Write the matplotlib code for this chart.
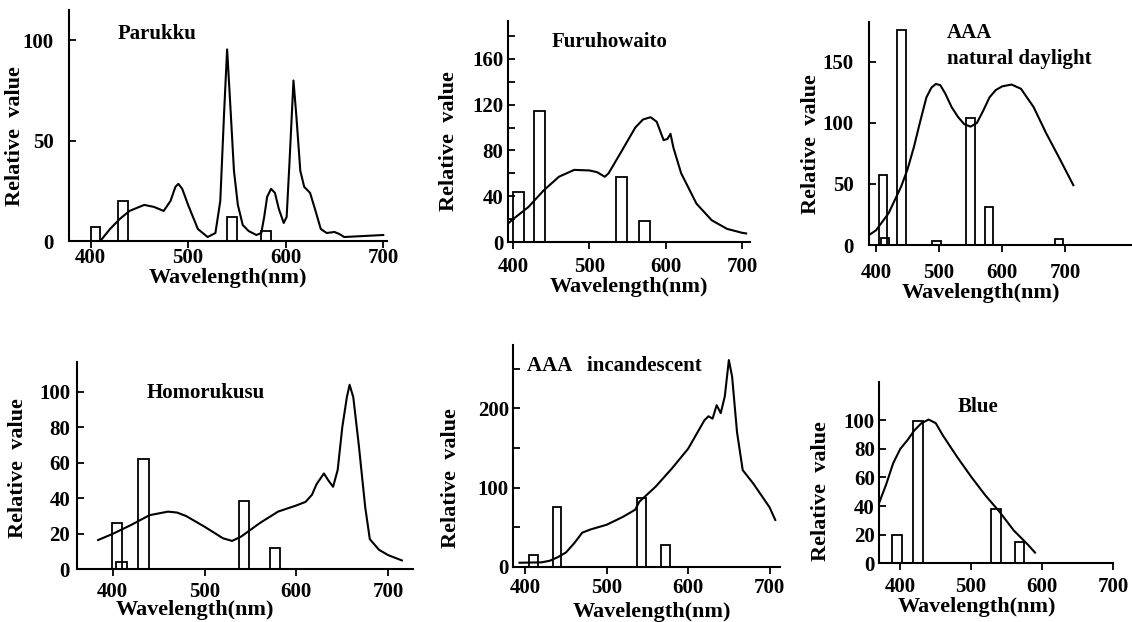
import numpy as np
import matplotlib.pyplot as plt

plt.rcParams['font.family'] = ['Liberation Serif', 'DejaVu Serif']
plt.rcParams['font.weight'] = 'bold'
plt.rcParams['axes.labelweight'] = 'bold'

# ---- data ----
# Parukku
parukku_wl = [410, 420, 430, 440, 455, 465, 475, 482, 487, 490, 494, 500, 510, 520, 528, 533, 537, 540,
              543, 547, 551, 556, 562, 570, 575, 578, 581, 585, 589, 593, 598, 601, 604, 608,
              611, 615, 619, 625, 630, 636, 642, 650, 655, 660, 680, 700]
parukku_val = [0, 6, 11, 15, 18, 17, 15, 20, 27, 28.5, 26, 18, 6, 2, 4, 20, 65, 95.5,
               70, 35, 18, 8, 5, 3, 4, 12, 22, 26, 24, 16, 9, 12, 40, 80,
               62, 35, 27, 24, 16, 6, 4, 4.5, 3.5, 2, 2.5, 3]
parukku_bar_wl = [405, 433, 545, 580]
parukku_bar_val = [7, 20, 12, 5]

# Furuhowaito
furu_wl = [394, 400, 420, 440, 460, 480, 500, 510, 520, 525, 540, 560, 570, 580, 588, 597,
           602, 606, 610, 620, 640, 660, 680, 700, 705]
furu_val = [16.5, 20, 30.5, 45, 57, 63, 62.5, 61, 57, 60, 77, 100, 107, 109, 105, 89,
            90, 94.5, 82, 60, 33.5, 19, 11.5, 8, 7.5]
furu_bar_wl = [407, 434.5, 542, 572]
furu_bar_val = [44, 114, 57, 18]

# AAA natural daylight
day_wl = [387, 400, 420, 440, 450, 460, 470, 480, 488, 495, 502, 510, 520, 530, 540, 550, 560,
          570, 580, 590, 600, 615, 630, 650, 670, 690, 713]
day_val = [7.5, 12, 26, 48, 62, 80, 101, 121, 129, 132, 131, 124, 113, 105, 99, 97, 100,
           110, 121, 127, 130, 131.5, 128, 113, 91.5, 72, 49]
day_bar_wl = [411, 414, 440.5, 496, 550, 579.5, 690.5]
day_bar_val = [57, 6, 176, 3.5, 104, 31, 5]

# Homorukusu
homo_wl = [384, 400, 420, 440, 460, 470, 480, 500, 520, 530, 540, 560, 580, 600, 610, 617,
           622, 630, 635, 640, 645, 650, 655, 658, 662, 668, 675, 680, 690, 700, 715]
homo_val = [16.5, 20, 25, 30.5, 32.5, 32, 30, 24, 17.5, 16, 18.5, 26, 32.5, 36, 38, 42,
            48, 54, 50, 46.5, 56, 80, 97, 104, 97, 70, 35, 17, 11, 8, 5]
homo_bar_wl = [404.5, 409.5, 433.5, 542.5, 576.5]
homo_bar_val = [26, 4, 62, 38.5, 12]

# AAA incandescent
inc_wl = [393, 420, 430, 440, 450, 460, 470, 480, 500, 520, 535, 540, 560, 580, 600, 620,
          625, 630, 635, 640, 645, 650, 654, 660, 667, 680, 700, 707]
inc_val = [5, 5.5, 7.5, 12, 18, 29.5, 43, 47, 53, 63, 72, 82, 101, 124, 149, 185,
           190, 187, 204, 194, 215, 261, 240, 170, 122, 105, 75, 59]
inc_bar_wl = [410, 439, 543, 572.5]
inc_bar_val = [15, 76, 87, 27]

# Blue
blue_wl = [370, 380, 390, 400, 410, 420, 430, 440, 450, 460, 480, 500, 520, 540, 560, 580, 590]
blue_val = [42, 55, 70, 80, 86, 93, 98, 100.5, 98, 89.5, 74.5, 60.5, 47.5, 36, 23, 13, 7.5]
blue_bar_wl = [395.5, 425, 535, 568]
blue_bar_val = [19.5, 99.5, 38, 15]

xticks = [400, 500, 600, 700]

fig = plt.figure(figsize=(11.32, 6.22), dpi=100)


def panel(rect, wl, val, bar_wl, bar_val, bar_w, xlim, ylim, yticks, yminor,
          title, title_xy, xlab_xy, ylab_xy, xpad, ypad):
    ax = fig.add_axes(rect)
    ax.bar(bar_wl, bar_val, width=bar_w, fill=False, edgecolor='black', linewidth=1.3)
    ax.plot(wl, val, color='black', linewidth=1.5)
    ax.set_xlim(xlim)
    ax.set_ylim(ylim)
    ax.set_xticks(xticks)
    ax.set_yticks(yticks)
    if yminor:
        ax.set_yticks(yminor, minor=True)
    for s in ['top', 'right']:
        ax.spines[s].set_visible(False)
    for s in ['left', 'bottom']:
        ax.spines[s].set_linewidth(1.5)
    ax.tick_params(axis='x', direction='out', length=5, width=1.3, labelsize=15, pad=xpad)
    ax.tick_params(axis='y', direction='in', length=5, width=1.3, labelsize=15, pad=ypad)
    ax.tick_params(axis='y', which='minor', direction='in', length=5, width=1.3)
    ax.set_xlabel('Wavelength(nm)', fontsize=16)
    ax.xaxis.set_label_coords(*xlab_xy)
    ax.set_ylabel('Relative  value', fontsize=16)
    ax.yaxis.set_label_coords(*ylab_xy)
    ax.text(title_xy[0], title_xy[1], title, transform=ax.transAxes,
            fontsize=15, va='center', ha='left', linespacing=1.4)
    return ax


panel([0.061, 0.6125, 0.281, 0.371], parukku_wl, parukku_val, parukku_bar_wl, parukku_bar_val, 10,
      (378, 704), (0, 115), [0, 50, 100], None,
      'Parukku', (0.154, 0.898), (0.5, -0.117), (-0.138, 0.455), 0, 11)
panel([0.4485, 0.6109, 0.214, 0.3553], furu_wl, furu_val, furu_bar_wl, furu_bar_val, 14,
      (393, 710), (0, 193), [0, 40, 80, 120, 160], [20, 60, 100, 140, 180],
      'Furuhowaito', (0.18, 0.907), (0.5, -0.158), (-0.201, 0.457), 6, 3)
panel([0.7677, 0.6061, 0.2323, 0.359], day_wl, day_val, day_bar_wl, day_bar_val, 13,
      (389, 806), (0, 183), [0, 50, 100, 150], None,
      'AAA\nnatural daylight', (0.295, 0.89), (0.426, -0.17), (-0.183, 0.452), 8, 11)
panel([0.068, 0.0847, 0.2968, 0.3338], homo_wl, homo_val, homo_bar_wl, homo_bar_val, 11,
      (361, 727), (0, 117), [0, 20, 40, 60, 80, 100], None,
      'Homorukusu', (0.207, 0.847), (0.35, -0.149), (-0.146, 0.49), 4, 5)
panel([0.4532, 0.0889, 0.236, 0.3564], inc_wl, inc_val, inc_bar_wl, inc_bar_val, 11,
      (385, 713), (0, 280), [0, 100, 200], [50, 150, 250],
      'AAA   incandescent', (0.053, 0.905), (0.52, -0.158), (-0.193, 0.40), 3, 3)
panel([0.7765, 0.0944, 0.2067, 0.292], blue_wl, blue_val, blue_bar_wl, blue_bar_val, 13,
      (370, 700), (0, 127), [0, 20, 40, 60, 80, 100], None,
      'Blue', (0.338, 0.863), (0.417, -0.184), (-0.205, 0.40), 5, 3)

plt.savefig('out.png', dpi=100)
